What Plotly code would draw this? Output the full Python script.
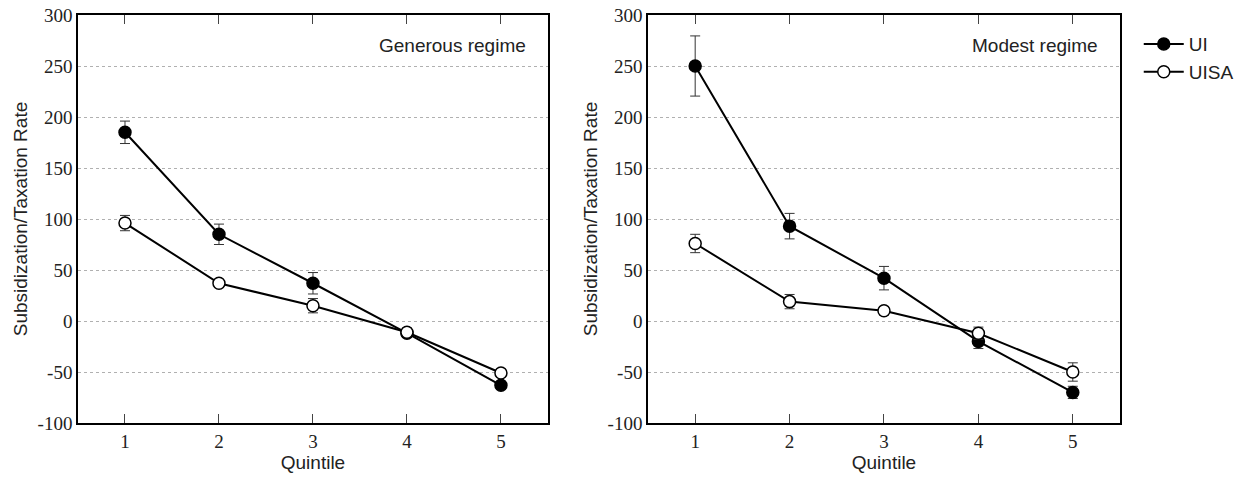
"""
Subsidization/taxation rate by income quintile, generous vs modest regime.
"""

import plotly.graph_objects as go
from plotly.subplots import make_subplots

QUINTILES = [1, 2, 3, 4, 5]

GENEROUS_UI = [185, 85, 37, -12, -63]
GENEROUS_UI_ERR = [11, 10, 10.5, 4, 2]
GENEROUS_UISA = [96, 37, 15, -11, -51]
GENEROUS_UISA_ERR = [7.5, 3, 7, 4, 2]

MODEST_UI = [250, 93, 42, -20, -70]
MODEST_UI_ERR = [29.5, 12.5, 11.5, 7, 6]
MODEST_UISA = [76, 19, 10, -12, -50]
MODEST_UISA_ERR = [9, 7, 4, 6, 9]

PANELS = ["Generous regime", "Modest regime"]
Y_TICKS = [-100, -50, 0, 50, 100, 150, 200, 250, 300]
Y_TICK_LABELS = ["-100", "-50", "0", "50", "100", "150", "200", "250", "300"]

SANS = "Liberation Sans"
SERIF = "Liberation Serif"
TEXT = "#222222"


def add_series(fig, col, y, err, filled, name, show):
    fig.add_trace(
        go.Scatter(
            x=QUINTILES,
            y=y,
            mode="lines+markers",
            name=name,
            showlegend=show,
            line=dict(color="black", width=2),
            marker=dict(
                size=12,
                color="black" if filled else "white",
                line=dict(color="black", width=1.5),
            ),
            error_y=dict(type="data", array=err, color="#333333", thickness=1, width=5),
        ),
        row=1,
        col=col,
    )


def build_fig():
    fig = make_subplots(rows=1, cols=2)
    add_series(fig, 1, GENEROUS_UI, GENEROUS_UI_ERR, True, "UI", True)
    add_series(fig, 1, GENEROUS_UISA, GENEROUS_UISA_ERR, False, "UISA", True)
    add_series(fig, 2, MODEST_UI, MODEST_UI_ERR, True, "UI", False)
    add_series(fig, 2, MODEST_UISA, MODEST_UISA_ERR, False, "UISA", False)

    domains = [(0.0, 0.451), (0.547, 1.0)]
    for i, dom in enumerate(domains, start=1):
        fig.update_xaxes(
            domain=list(dom),
            range=[0.5, 5.5],
            tickvals=QUINTILES,
            ticks="inside",
            ticklen=9,
            tickcolor="#444444",
            showline=True,
            linecolor="black",
            linewidth=1.5,
            mirror="ticks",
            showgrid=False,
            zeroline=False,
            automargin=False,
            tickfont=dict(family=SERIF, size=19, color=TEXT),
            title=dict(text="Quintile", font=dict(family=SANS, size=19, color=TEXT), standoff=4),
            row=1,
            col=i,
        )
        fig.update_yaxes(
            range=[-100, 300],
            tickvals=Y_TICKS,
            ticktext=Y_TICK_LABELS,
            ticks="",
            showline=True,
            linecolor="black",
            linewidth=1.5,
            mirror=True,
            showgrid=True,
            gridcolor="#b0b0b0",
            gridwidth=1,
            griddash="dot",
            zeroline=False,
            automargin=False,
            tickfont=dict(family=SERIF, size=19, color=TEXT),
            title=dict(
                text="Subsidization/Taxation Rate",
                font=dict(family=SANS, size=19, color=TEXT),
                standoff=5,
            ),
            row=1,
            col=i,
        )

    for i, label in enumerate(PANELS, start=1):
        suffix = "" if i == 1 else str(i)
        fig.add_annotation(
            text=label,
            xref=f"x{suffix} domain",
            yref=f"y{suffix} domain",
            x=0.957,
            y=0.926,
            xanchor="right",
            yanchor="middle",
            showarrow=False,
            font=dict(family=SANS, size=19, color=TEXT),
        )

    fig.update_layout(
        width=1253,
        height=479,
        plot_bgcolor="white",
        paper_bgcolor="white",
        margin=dict(l=78, r=133, t=15, b=56, autoexpand=False),
        legend=dict(
            x=1.018,
            y=0.975,
            xanchor="left",
            yanchor="top",
            font=dict(family=SANS, size=19, color=TEXT),
            itemwidth=40,
            tracegroupgap=0,
            bgcolor="rgba(0,0,0,0)",
        ),
    )
    return fig


fig = build_fig()
# drop the default 8px body margin so the figure sits flush in the window
fig.write_html(
    "out.html",
    config={"displayModeBar": False},
    post_script="document.body.style.margin = '0px';",
)
